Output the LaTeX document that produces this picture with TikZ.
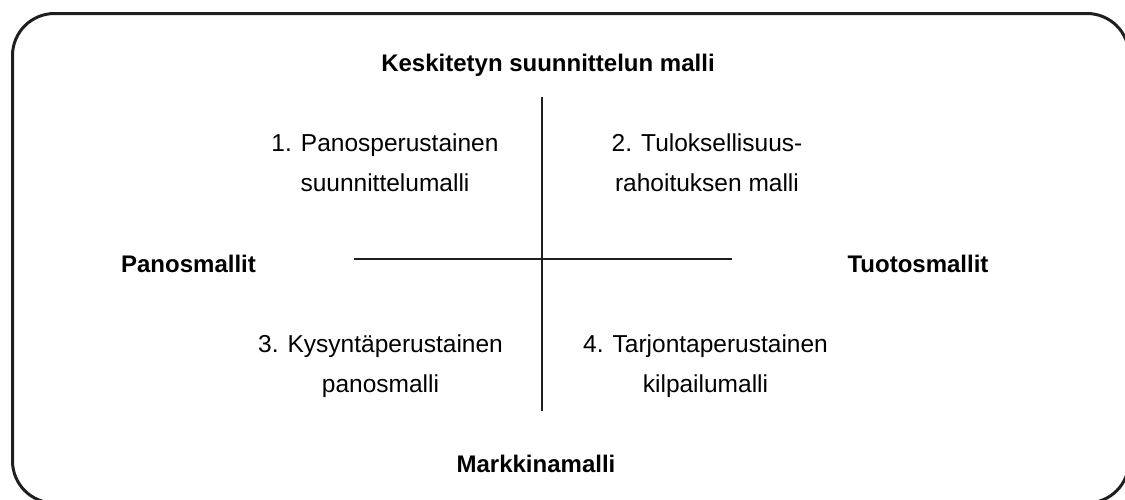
\documentclass[tikz,border=0pt]{standalone}
\usepackage{fontspec}
\setmainfont{Liberation Sans}
\begin{document}
\begin{tikzpicture}[x=1pt,y=-1pt,
  frame/.style={line width=3pt,draw=black!88,rounded corners=42pt},
  axis/.style={line width=2.6pt,draw=black!88},
  headlabel/.style={font=\fontsize{24}{28}\selectfont\bfseries,inner sep=0pt,anchor=base},
  cell/.style={font=\fontsize{24.5}{40}\selectfont,align=center,inner sep=0pt,anchor=base}]
  \useasboundingbox (0,0) rectangle (1125,499);
  \clip (0,0) rectangle (1125,499);
  \draw[frame] (12.5,13.5) rectangle (1129,503);

  % axes
  \coordinate (vtop) at (542,97);
  \coordinate (vbot) at (542,411);
  \coordinate (hleft) at (354,259);
  \coordinate (hright) at (732,259);
  \draw[axis] (vtop) -- (vbot);
  \draw[axis] (hleft) -- (hright);

  % axis labels
  \node[headlabel] (top) at (548,71) {Keskitetyn suunnittelun malli};
  \node[headlabel] (bottom) at (536,472) {Markkinamalli};
  \node[headlabel] (left) at (188.5,272) {Panosmallit};
  \node[headlabel] (right) at (918,272) {Tuotosmallit};

  % quadrants (anchored at the baseline of the second line)
  \node[cell] (q1) at (385,191) {1. Panosperustainen\\suunnittelumalli};
  \node[cell] (q2) at (707,191) {2. Tuloksellisuus-\\rahoituksen malli};
  \node[cell] (q3) at (380.5,392) {3. Kysyntäperustainen\\panosmalli};
  \node[cell] (q4) at (705.5,392) {4. Tarjontaperustainen\\kilpailumalli};
\end{tikzpicture}
\end{document}
